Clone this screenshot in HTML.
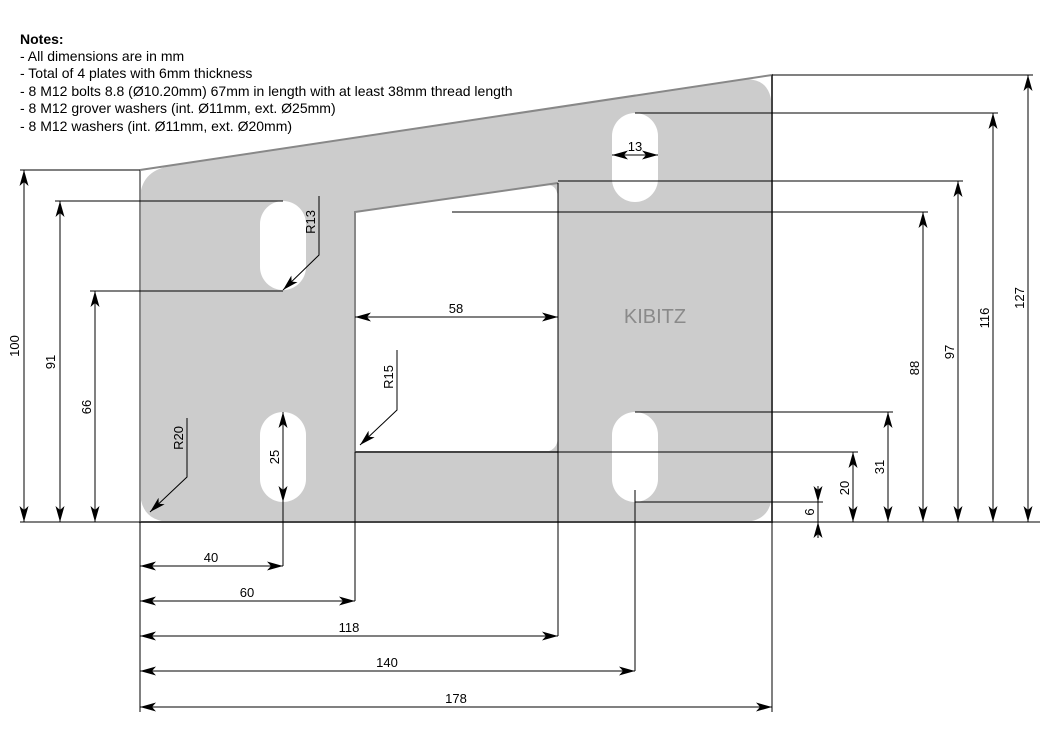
<!DOCTYPE html>
<html><head><meta charset="utf-8"><style>
html,body{margin:0;padding:0;background:#fff}
svg{display:block}
text{font-family:"Liberation Sans",sans-serif;font-size:13px;fill:#000}
.n{font-size:14px}
</style></head><body>
<svg width="1053" height="745" viewBox="0 0 1053 745" xmlns="http://www.w3.org/2000/svg">
<defs>
<marker id="a" viewBox="0 0 16 10" refX="16" refY="5" markerWidth="16" markerHeight="9" markerUnits="userSpaceOnUse" orient="auto-start-reverse" preserveAspectRatio="none">
<path d="M0,0 L16,5 L0,10 L4,5 Z" fill="#000"/>
</marker>
</defs>
<text class="n" x="20" y="44" font-weight="bold">Notes:</text>
<text class="n" x="20" y="61">- All dimensions are in mm</text>
<text class="n" x="20" y="78">- Total of 4 plates with 6mm thickness</text>
<text class="n" x="20" y="96">- 8 M12 bolts 8.8 (Ø10.20mm) 67mm in length with at least 38mm thread length</text>
<text class="n" x="20" y="113">- 8 M12 grover washers (int. Ø11mm, ext. Ø25mm)</text>
<text class="n" x="20" y="131">- 8 M12 washers (int. Ø11mm, ext. Ø20mm)</text>

<path d="M170,166 L740,80 Q772,75 772,110 L772,492 Q772,522 742,522 L172,522 Q140,522 140,490 L140,200 Q140,171 170,166 Z" fill="#cccccc"/>
<path d="M355,212 L544,185 Q558,183 558,200 L558,436 Q558,452 542,452 L355,452 Z" fill="#fff"/>
<g fill="#fff">
<rect x="260" y="201" width="46" height="89" rx="23"/>
<rect x="260" y="412" width="46" height="90" rx="23"/>
<rect x="612" y="113" width="46" height="89" rx="23"/>
<rect x="612" y="412" width="46" height="90" rx="23"/>
</g>
<g stroke="#888" stroke-width="2" fill="none">
<path d="M140,170 L140,522 L772,522 L772,75 L140,170"/>
<path d="M355,452 L355,212 L558,183 M355,452 L558,452"/>
</g>
<text x="655" y="323" text-anchor="middle" style="font-size:20px;fill:#8a8a8a">KIBITZ</text>

<g stroke="#000" stroke-width="1" fill="none">
<path d="M20,522 H1040 M20,170 H140 M55,201 H283 M90,291 H283"/>
<path d="M140,522 V712 M283,470 V566 M355,452 V601 M558,183 V636 M635,490 V671 M772,75 V712"/>
<path d="M635,502 H823 M355,452 H858 M635,412 H893 M452,212 H928 M558,181 H963 M635,113 H998 M772,75 H1033"/>
<path d="M140,566 H283" marker-start="url(#a)" marker-end="url(#a)"/>
<path d="M140,601 H355" marker-start="url(#a)" marker-end="url(#a)"/>
<path d="M140,636 H558" marker-start="url(#a)" marker-end="url(#a)"/>
<path d="M140,671 H635" marker-start="url(#a)" marker-end="url(#a)"/>
<path d="M140,707 H772" marker-start="url(#a)" marker-end="url(#a)"/>
<path d="M24,170 V522" marker-start="url(#a)" marker-end="url(#a)"/>
<path d="M60,201 V522" marker-start="url(#a)" marker-end="url(#a)"/>
<path d="M95,291 V522" marker-start="url(#a)" marker-end="url(#a)"/>
<path d="M853,452 V522" marker-start="url(#a)" marker-end="url(#a)"/>
<path d="M888,412 V522" marker-start="url(#a)" marker-end="url(#a)"/>
<path d="M923,212 V522" marker-start="url(#a)" marker-end="url(#a)"/>
<path d="M958,181 V522" marker-start="url(#a)" marker-end="url(#a)"/>
<path d="M993,113 V522" marker-start="url(#a)" marker-end="url(#a)"/>
<path d="M1028,75 V522" marker-start="url(#a)" marker-end="url(#a)"/>
<path d="M818,486 V538"/>
<path d="M818,486 V502" marker-end="url(#a)"/>
<path d="M818,538 V522" marker-end="url(#a)"/>
<path d="M355,317 H558" marker-start="url(#a)" marker-end="url(#a)"/>
<path d="M612,155 H658" marker-start="url(#a)" marker-end="url(#a)"/>
<path d="M283,412 V502" marker-start="url(#a)" marker-end="url(#a)"/>
<path d="M319,196 V255 L283,290" marker-end="url(#a)"/>
<path d="M397,350 V410 L360,445" marker-end="url(#a)"/>
<path d="M187,418 V477 L150,512" marker-end="url(#a)"/>
</g>
<g>
<text x="211" y="562" text-anchor="middle">40</text>
<text x="247" y="597" text-anchor="middle">60</text>
<text x="349" y="632" text-anchor="middle">118</text>
<text x="387" y="667" text-anchor="middle">140</text>
<text x="456" y="703" text-anchor="middle">178</text>
<text x="456" y="313" text-anchor="middle">58</text>
<text x="635" y="151" text-anchor="middle">13</text>
<text transform="translate(19,346) rotate(-90)" text-anchor="middle">100</text>
<text transform="translate(55,362) rotate(-90)" text-anchor="middle">91</text>
<text transform="translate(91,407) rotate(-90)" text-anchor="middle">66</text>
<text transform="translate(279,457) rotate(-90)" text-anchor="middle">25</text>
<text transform="translate(814,512) rotate(-90)" text-anchor="middle">6</text>
<text transform="translate(849,488) rotate(-90)" text-anchor="middle">20</text>
<text transform="translate(884,467) rotate(-90)" text-anchor="middle">31</text>
<text transform="translate(919,368) rotate(-90)" text-anchor="middle">88</text>
<text transform="translate(954,352) rotate(-90)" text-anchor="middle">97</text>
<text transform="translate(989,318) rotate(-90)" text-anchor="middle">116</text>
<text transform="translate(1024,298) rotate(-90)" text-anchor="middle">127</text>
<text transform="translate(315,222) rotate(-90)" text-anchor="middle">R13</text>
<text transform="translate(393,377) rotate(-90)" text-anchor="middle">R15</text>
<text transform="translate(183,438) rotate(-90)" text-anchor="middle">R20</text>
</g>
</svg>
</body></html>
